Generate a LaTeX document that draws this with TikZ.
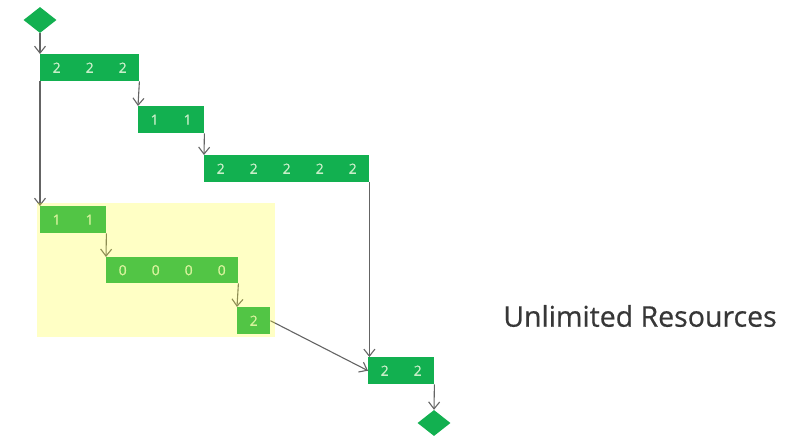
\documentclass[tikz,border=0pt]{standalone}
\usepackage{fontspec}
\setmainfont{Open Sans}
\newfontfamily\heavier[FakeBold=0.6]{Open Sans}
\usetikzlibrary{shapes.geometric,arrows.meta}
\definecolor{boxgreen}{RGB}{18,176,80}
\definecolor{digit}{RGB}{200,238,200}
\definecolor{linegray}{RGB}{100,100,100}
\definecolor{hl}{RGB}{255,255,40}
\definecolor{txt}{RGB}{55,55,55}
\newcommand{\cells}[2]{\foreach \i in {1,...,#1}{\makebox[33pt]{#2}}}
\begin{document}
\begin{tikzpicture}[x=1pt,y=-1pt,
  taskbox/.style={fill=boxgreen, draw=none, anchor=north west, inner sep=0pt,
    minimum height=27pt, text=digit, font=\heavier\fontsize{14}{14}\selectfont},
  milestone/.style={shape=diamond, fill=boxgreen, draw=none, inner sep=0pt,
    minimum width=33pt, minimum height=26pt},
  arr/.style={draw=linegray, line width=1.1pt, -{Straight Barb[length=7pt,width=11pt]}},
  ln/.style={draw=linegray, line width=1.1pt}]
\useasboundingbox (0,0) rectangle (803,436);
\node[milestone] (d1) at (40,20) {};
\node[taskbox, minimum width=98pt] (b1) at (40,54) {\cells{3}{2}};
\node[taskbox, minimum width=66pt] (b2) at (138,106) {\cells{2}{1}};
\node[taskbox, minimum width=165pt] (b3) at (204,155) {\cells{5}{2}};
\node[taskbox, minimum width=66pt] (b4) at (40,206) {\cells{2}{1}};
\node[taskbox, minimum width=131pt, minimum height=26pt] (b5) at (106,257) {\cells{4}{0}};
\node[taskbox, minimum width=33pt] (b6) at (237,307) {\cells{1}{2}};
\node[taskbox, minimum width=66pt] (b7) at (368,357) {\cells{2}{2}};
\node[milestone] (d2) at (434,423) {};
\node[text=txt, font=\heavier\fontsize{28.5}{28.5}\selectfont] (lbl) at (640,316) {Unlimited Resources};
\draw[arr] (d1.south) -- (b1.north west);
\draw[arr] (b1.south west) -- (b4.north west);
\draw[arr] (b1.south east) -- (b2.north west);
\draw[arr] (b2.south east) -- (b3.north west);
\draw[arr] (b3.south east) -- (b3.south east |- b7.north);
\draw[arr] (b4.south east) -- (b5.north west);
\draw[arr] (b5.south east) -- (b6.north west);
\draw[arr] (b6.east) -- (b7.west);
\draw[arr] (b7.south east) -- (d2.north);
\fill[hl, fill opacity=0.27] (37,203) rectangle (275,337);
\end{tikzpicture}
\end{document}
